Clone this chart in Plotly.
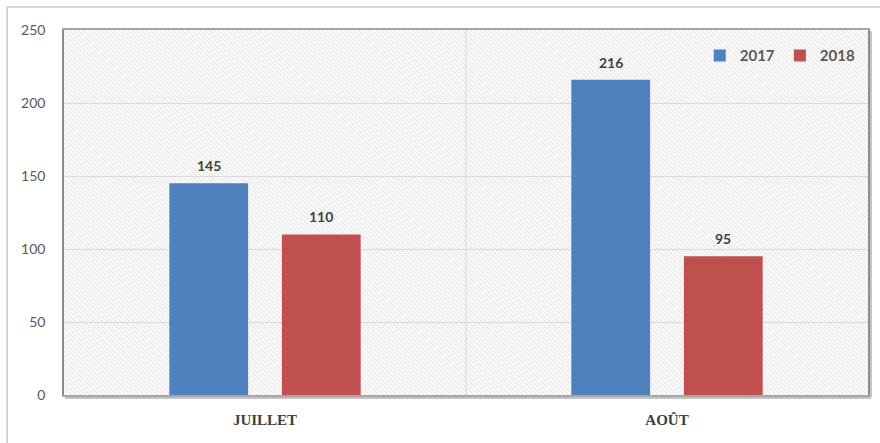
import base64
import plotly.graph_objects as go

# Monthly counts, two seasons
months = ["JUILLET", "AOÛT"]
years = ["2017", "2018"]
values_2017 = [145, 216]
values_2018 = [110, 95]
colors = ["#4f81bd", "#c0504d"]
y_ticks = [0, 50, 100, 150, 200, 250]

W, H = 880, 443
M_L, M_R, M_T, M_B = 64, 10, 30, 48
PW, PH = W - M_L - M_R, H - M_T - M_B
BARGAP, GROUPGAP = 0.44, 0.30

# Diagonal hatch used as plot background
hatch_svg = f"""<svg xmlns='http://www.w3.org/2000/svg' width='{PW}' height='{PH}' viewBox='0 0 {PW} {PH}' preserveAspectRatio='none'>
<defs><pattern id='h' patternUnits='userSpaceOnUse' width='3.2' height='3.2' patternTransform='rotate(-45)'>
<rect width='3.2' height='3.2' fill='#fbfbfb'/>
<line x1='0' y1='0' x2='0' y2='3.2' stroke='#d4d4d4' stroke-width='1.1'/></pattern></defs>
<rect width='{PW}' height='{PH}' fill='url(#h)'/></svg>"""
hatch_src = "data:image/svg+xml;base64," + base64.b64encode(hatch_svg.encode()).decode()

fig = go.Figure()
for name, vals, col in zip(years, [values_2017, values_2018], colors):
    fig.add_trace(go.Bar(x=months, y=vals, name=name, marker=dict(color=col, line=dict(width=0))))

# Value labels above each bar
slot = (1 - BARGAP) / 2
for k, vals in enumerate([values_2017, values_2018]):
    offset = (k - 0.5) * slot
    for i, v in enumerate(vals):
        fig.add_annotation(x=i + offset, y=v, text=f"<b>{v}</b>", showarrow=False,
                           yanchor="bottom", yshift=7,
                           font=dict(family="Lato", size=14, color="#404040"))

def px_x(p):
    return (p - M_L) / PW

def px_y(p):
    return (H - M_B - p) / PH

shapes = [
    # outer frame
    dict(type="rect", xref="paper", yref="paper", x0=px_x(7), x1=px_x(900), y0=px_y(460), y1=px_y(7),
         line=dict(color="#c8c8c8", width=1.5), layer="below"),
    # plot frame shadow
    dict(type="line", xref="paper", yref="paper", x0=px_x(65), x1=px_x(873), y0=px_y(397.5), y1=px_y(397.5),
         line=dict(color="#c4c4c4", width=3), layer="below"),
    dict(type="line", xref="paper", yref="paper", x0=px_x(872.5), x1=px_x(872.5), y0=px_y(397), y1=px_y(31),
         line=dict(color="#c4c4c4", width=3), layer="below"),
    # category separator
    dict(type="line", xref="x", yref="paper", x0=0.5, x1=0.5, y0=0, y1=1,
         line=dict(color="#d9d9d9", width=1), layer="below"),
]

fig.update_layout(
    width=W, height=H,
    margin=dict(l=M_L, r=M_R, t=M_T, b=M_B),
    paper_bgcolor="white", plot_bgcolor="white",
    barmode="group", bargap=BARGAP, bargroupgap=GROUPGAP,
    images=[dict(source=hatch_src, xref="paper", yref="paper", x=0, y=1, sizex=1, sizey=1,
                 sizing="stretch", xanchor="left", yanchor="top", layer="below")],
    shapes=shapes,
    legend=dict(orientation="h", x=0.991, xanchor="right", y=0.975, yanchor="top",
                bgcolor="rgba(0,0,0,0)", itemwidth=30, traceorder="normal",
                font=dict(family="Lato", size=15, color="#595959", weight="bold")),
    showlegend=True,
)
fig.update_xaxes(range=[-0.5, 1.5], showgrid=False, showline=True, mirror=True,
                 linecolor="#a6a6a6", linewidth=1.5, ticks="", ticklabelstandoff=10,
                 tickfont=dict(family="Liberation Serif", size=15, color="#404040", weight="bold"))
fig.update_yaxes(range=[0, 250], tickvals=y_ticks, showgrid=True, gridcolor="#d9d9d9", gridwidth=1,
                 showline=True, mirror=True, linecolor="#8c8c8c", linewidth=1.5, ticks="",
                 zeroline=False, ticklabelstandoff=14,
                 tickfont=dict(family="Lato", size=14, color="#595959"))

fig.write_html("out.html")
